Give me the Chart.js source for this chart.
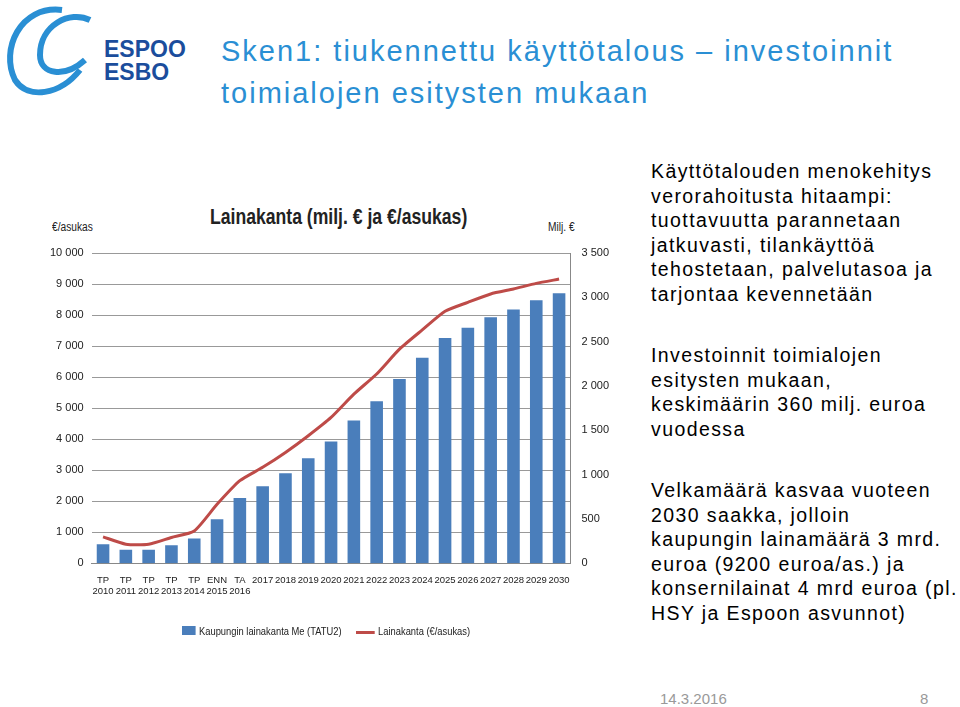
<!DOCTYPE html>
<html><head><meta charset="utf-8">
<script src="https://cdn.jsdelivr.net/npm/chart.js@4"></script>
<style>
body{margin:0;width:960px;height:707px;background:#fff;font-family:Arial,"Liberation Sans",sans-serif;position:relative;overflow:hidden}
.t{position:absolute;left:221px;top:30px;color:#2a8fd4;font-size:29px;line-height:42px;letter-spacing:2px;white-space:nowrap}
.side{position:absolute;left:651px;color:#000;font-size:19.5px;line-height:24.6px;letter-spacing:1.4px;white-space:nowrap}
#wrap{position:absolute;left:40px;top:200px;width:572px;height:450px}
.ct{position:absolute;left:210px;top:204px;font:bold 22px Arial;color:#222;transform:scaleX(.8);transform-origin:left;white-space:nowrap}
.ax{position:absolute;top:220px;font:12px Arial;color:#222;transform:scaleX(.85);transform-origin:left}
.leg{position:absolute;top:625px;font:11px Arial;color:#222;transform:scaleX(.85);transform-origin:left;white-space:nowrap}
.foot{position:absolute;top:690px;color:#999;font-size:15px}
</style></head><body>
<svg style="position:absolute;left:0;top:0" width="200" height="110">
<g fill="none" stroke="#2a8fd4" stroke-width="6">
<path d="M62 10 C20 5 0 50 15 80 C28 100 60 95 80 70"/>
<path d="M90 20 C70 10 40 25 40 55 C40 75 65 78 85 60"/>
</g>
<text x="104" y="57" font-family="Arial" font-weight="bold" font-size="23" fill="#1b4d9c">ESPOO</text>
<text x="104" y="80" font-family="Arial" font-weight="bold" font-size="23" fill="#1b4d9c">ESBO</text>
</svg>
<div class="t">Sken1: tiukennettu käyttötalous – investoinnit<br>toimialojen esitysten mukaan</div>
<div class="side" style="top:159px">Käyttötalouden menokehitys<br>verorahoitusta hitaampi:<br>tuottavuutta parannetaan<br>jatkuvasti, tilankäyttöä<br>tehostetaan, palvelutasoa ja<br>tarjontaa kevennetään</div>
<div class="side" style="top:343px">Investoinnit toimialojen<br>esitysten mukaan,<br>keskimäärin 360 milj. euroa<br>vuodessa</div>
<div class="side" style="top:478px">Velkamäärä kasvaa vuoteen<br>2030 saakka, jolloin<br>kaupungin lainamäärä 3 mrd.<br>euroa (9200 euroa/as.) ja<br>konsernilainat 4 mrd euroa (pl.<br>HSY ja Espoon asvunnot)</div>
<div class="ct">Lainakanta (milj. € ja €/asukas)</div>
<div class="ax" style="left:52px">€/asukas</div>
<div class="ax" style="left:548px">Milj. €</div>
<div id="wrap"><canvas id="c"></canvas></div>
<div class="leg" style="left:182px"><span style="display:inline-block;width:16px;height:9px;background:#4a7ebb;margin-right:4px"></span>Kaupungin lainakanta Me (TATU2)</div>
<div class="leg" style="left:356px"><span style="display:inline-block;width:22px;height:3px;background:#be4b48;vertical-align:middle;margin-right:4px"></span>Lainakanta (€/asukas)</div>
<div class="foot" style="left:660px">14.3.2016</div>
<div class="foot" style="left:920px">8</div>
<script>
const labels = [['TP','2010'],['TP','2011'],['TP','2012'],['TP','2013'],['TP','2014'],['ENN','2015'],['TA','2016'],'2017','2018','2019','2020','2021','2022','2023','2024','2025','2026','2027','2028','2029','2030'];
const loanMeur = [214,151,151,203,280,497,735,868,1015,1183,1372,1610,1827,2079,2317,2541,2657,2776,2863,2968,3045];
const loanPerCapita = [850,613,612,830,1040,1900,2660,3090,3570,4110,4700,5450,6100,6900,7520,8120,8410,8680,8840,9020,9160];
const leftTicks = [0,1000,2000,3000,4000,5000,6000,7000,8000,9000,10000];
const fmt = v => v >= 1000 ? String(v).replace(/\B(?=(\d{3})+$)/g,' ') : String(v);
const F = {family:'Arial', size:11};
new Chart(document.getElementById('c'), {
  data:{labels, datasets:[
    {type:'line', data:loanPerCapita, yAxisID:'y', borderColor:'#be4b48', borderWidth:3, pointRadius:0, tension:0.2, order:0},
    {type:'bar', data:loanMeur, yAxisID:'y2', backgroundColor:'#4a7ebb', categoryPercentage:0.85, barPercentage:0.65, order:1}
  ]},
  options:{responsive:true, maintainAspectRatio:false, animation:false,
    layout:{padding:{top:53,bottom:50,right:0,left:2}},
    plugins:{legend:{display:false}, tooltip:{enabled:false}},
    scales:{
      x:{grid:{display:false}, border:{color:'#888'}, ticks:{color:'#222', font:{family:'Arial',size:9.5}, maxRotation:0, autoSkip:false}},
      y:{position:'left', min:0, max:10000, afterBuildTicks:a=>{a.ticks=leftTicks.map(v=>({value:v}))},
         grid:{color:'#999', drawTicks:false}, border:{display:false}, ticks:{color:'#222', font:F, padding:8, callback:fmt}},
      y2:{position:'right', min:0, max:3500, ticks:{stepSize:500, color:'#222', font:F, callback:fmt},
         grid:{display:false}, border:{color:'#888'}}
    }}
});
</script>
</body></html>
